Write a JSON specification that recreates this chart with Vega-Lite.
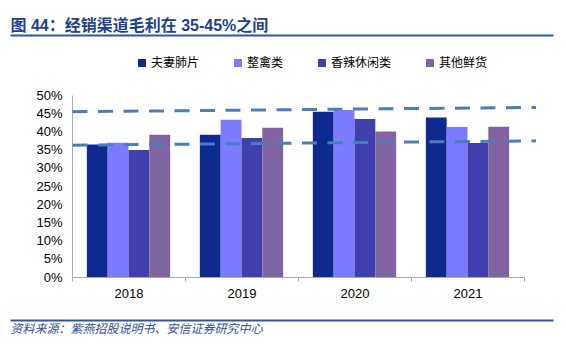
{
  "$schema": "https://vega.github.io/schema/vega-lite/v6.json",
  "width": 452,
  "height": 182,
  "autosize": {"type": "none"},
  "padding": {"left": 72, "top": 95, "right": 42, "bottom": 67},
  "background": "white",
  "config": {
    "view": {"stroke": null},
    "font": "Liberation Sans",
    "axisY": {
      "title": null,
      "format": ".0%",
      "grid": false,
      "ticks": false,
      "tickSize": 0,
      "domainColor": "#aaaaaa",
      "labelFontSize": 13,
      "labelFont": "Liberation Sans",
      "labelColor": "#000000",
      "labelPadding": 10,
      "labelOverlap": false
    }
  },
  "datasets": {
    "bars": [
      {"year": "2018", "series": "夫妻肺片", "value": 0.364},
      {"year": "2018", "series": "整禽类", "value": 0.369},
      {"year": "2018", "series": "香辣休闲类", "value": 0.349},
      {"year": "2018", "series": "其他鲜货", "value": 0.391},
      {"year": "2019", "series": "夫妻肺片", "value": 0.391},
      {"year": "2019", "series": "整禽类", "value": 0.432},
      {"year": "2019", "series": "香辣休闲类", "value": 0.382},
      {"year": "2019", "series": "其他鲜货", "value": 0.410},
      {"year": "2020", "series": "夫妻肺片", "value": 0.454},
      {"year": "2020", "series": "整禽类", "value": 0.459},
      {"year": "2020", "series": "香辣休闲类", "value": 0.434},
      {"year": "2020", "series": "其他鲜货", "value": 0.400},
      {"year": "2021", "series": "夫妻肺片", "value": 0.438},
      {"year": "2021", "series": "整禽类", "value": 0.412},
      {"year": "2021", "series": "香辣休闲类", "value": 0.368},
      {"year": "2021", "series": "其他鲜货", "value": 0.413}
    ],
    "upper": [
      {"pos": 0.1151, "value": 0.454},
      {"pos": 0.9687, "value": 0.466}
    ],
    "lower": [
      {"pos": 0.1151, "value": 0.362},
      {"pos": 0.9687, "value": 0.374}
    ]
  },
  "layer": [
    {
      "data": {"name": "bars"},
      "mark": {"type": "bar"},
      "encoding": {
        "x": {
          "field": "year",
          "type": "nominal",
          "scale": {"paddingInner": 0, "paddingOuter": 0},
          "axis": {
            "title": null,
            "labelAngle": 0,
            "tickBand": "extent",
            "tickSize": 4,
            "tickColor": "#aaaaaa",
            "domainColor": "#aaaaaa",
            "labelFontSize": 13,
            "labelPadding": 6,
            "labelFont": "Liberation Sans",
            "labelColor": "#000000"
          }
        },
        "xOffset": {
          "field": "series",
          "type": "nominal",
          "scale": {"domain": ["夫妻肺片", "整禽类", "香辣休闲类", "其他鲜货"], "paddingOuter": 0.7125, "paddingInner": 0}
        },
        "y": {
          "field": "value",
          "type": "quantitative",
          "scale": {"domain": [0, 0.5], "nice": false},
          "axis": {"values": [0, 0.05, 0.1, 0.15, 0.2, 0.25, 0.3, 0.35, 0.4, 0.45, 0.5], "title": null}
        },
        "color": {
          "field": "series",
          "type": "nominal",
          "scale": {
            "domain": ["夫妻肺片", "整禽类", "香辣休闲类", "其他鲜货"],
            "range": ["#0E2A8E", "#7B7BFF", "#3F3FAE", "#8064A2"]
          },
          "legend": {
            "orient": "none",
            "legendX": 64,
            "legendY": -38,
            "direction": "horizontal",
            "columns": 4,
            "title": null,
            "symbolType": "square",
            "symbolSize": 64,
            "symbolStrokeWidth": 0,
            "labelFontSize": 12,
            "labelFont": "Noto Sans CJK SC",
            "labelColor": "#000000",
            "columnPadding": 32,
            "labelOffset": 3,
            "padding": 0
          }
        }
      }
    },
    {
      "data": {"name": "upper"},
      "mark": {"type": "line", "color": "#4A7EBB", "strokeWidth": 3, "strokeDash": [15, 10.5], "strokeCap": "butt"},
      "encoding": {
        "x": {
          "field": "pos",
          "type": "quantitative",
          "scale": {"domain": [0, 1], "range": [-62, 481], "nice": false, "zero": false},
          "axis": {
            "orient": "top",
            "offset": 60,
            "domainColor": "#2F55A4",
            "domainWidth": 2,
            "ticks": false,
            "labels": false,
            "grid": false,
            "title": "图 44：经销渠道毛利在 35-45%之间",
            "titleAnchor": "start",
            "titleFontSize": 16,
            "titleFontWeight": "bold",
            "titleColor": "#1F3F8F",
            "titleFont": "Liberation Sans, Noto Sans CJK SC",
            "titlePadding": 2
          }
        },
        "y": {
          "field": "value",
          "type": "quantitative",
          "axis": {"values": [0, 0.05, 0.1, 0.15, 0.2, 0.25, 0.3, 0.35, 0.4, 0.45, 0.5], "title": null}
        }
      }
    },
    {
      "data": {"name": "lower"},
      "mark": {"type": "line", "color": "#4A7EBB", "strokeWidth": 3, "strokeDash": [15, 10.5], "strokeCap": "butt"},
      "encoding": {
        "x": {
          "field": "pos",
          "type": "quantitative",
          "scale": {"domain": [0, 1], "range": [-62, 481], "nice": false, "zero": false},
          "axis": {
            "orient": "bottom",
            "offset": 43,
            "domainColor": "#2F55A4",
            "domainWidth": 2,
            "ticks": false,
            "labels": false,
            "grid": false,
            "title": "资料来源：紫燕招股说明书、安信证券研究中心",
            "titleAnchor": "start",
            "titleFontSize": 12,
            "titleFontWeight": "normal",
            "titleFontStyle": "italic",
            "titleColor": "#2F4F9F",
            "titleFont": "Noto Sans CJK SC",
            "titlePadding": 3
          }
        },
        "y": {
          "field": "value",
          "type": "quantitative",
          "axis": {"values": [0, 0.05, 0.1, 0.15, 0.2, 0.25, 0.3, 0.35, 0.4, 0.45, 0.5], "title": null}
        }
      }
    }
  ],
  "resolve": {"scale": {"x": "independent"}, "axis": {"x": "independent"}}
}
